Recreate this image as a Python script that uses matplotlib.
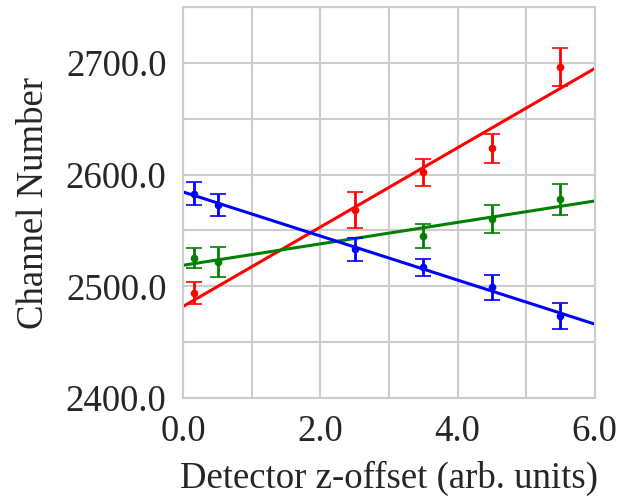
import matplotlib
matplotlib.use("Agg")
import matplotlib.pyplot as plt
import numpy as np
import seaborn as sns
from matplotlib.ticker import FormatStrFormatter, MultipleLocator

# detector z-offset positions and channel readings per series
X_RED = [0.15, 2.5, 3.5, 4.5, 5.5]
Y_RED = [2494, 2568, 2602, 2623.5, 2696]
E_RED = [10, 16, 12, 13, 17]

X_GREEN = [0.15, 0.5, 3.5, 4.5, 5.5]
Y_GREEN = [2525, 2522, 2545, 2560, 2578]
E_GREEN = [9, 13.5, 11, 12.5, 14]

X_BLUE = [0.15, 0.5, 2.5, 3.5, 4.5, 5.5]
Y_BLUE = [2583, 2573, 2533, 2517, 2499, 2473.5]
E_BLUE = [10, 10, 10, 7.5, 11, 12]

SERIES = [
    (X_RED, Y_RED, E_RED, "red"),
    (X_GREEN, Y_GREEN, E_GREEN, "green"),
    (X_BLUE, Y_BLUE, E_BLUE, "blue"),
]


def main() -> None:
    sns.set_style("whitegrid")
    plt.rcParams["font.family"] = ["Liberation Serif", "DejaVu Serif"]
    plt.rcParams.update({"axes.edgecolor": "#cccccc", "grid.color": "#cccccc"})

    fig = plt.figure(figsize=(6.43, 4.97), dpi=100)
    ax = fig.add_axes([0.285, 0.199, 0.640, 0.787])

    xfit = np.linspace(0, 6, 50)
    for x, y, e, c in SERIES:
        ax.errorbar(x, y, yerr=e, fmt="o", color=c, ms=4.5, elinewidth=2,
                    capsize=6, capthick=1.2, zorder=3)
        p = np.polyfit(x, y, 1)
        ax.plot(xfit, np.polyval(p, xfit), color=c, lw=2.2, zorder=2)

    ax.set_xlim(0, 6)
    ax.set_ylim(2400, 2750)
    ax.xaxis.set_major_locator(MultipleLocator(2))
    ax.xaxis.set_minor_locator(MultipleLocator(1))
    ax.yaxis.set_major_locator(MultipleLocator(100))
    ax.yaxis.set_minor_locator(MultipleLocator(50))
    ax.xaxis.set_major_formatter(FormatStrFormatter("%.1f"))
    ax.yaxis.set_major_formatter(FormatStrFormatter("%.1f"))
    ax.grid(True, which="both", color="#cccccc", lw=1.5)
    ax.tick_params(which="both", length=0, labelsize=26.5, colors="#262626", pad=12)
    for s in ax.spines.values():
        s.set_color("#cccccc")
        s.set_linewidth(1.5)

    ax.set_xlabel("Detector z-offset (arb. units)", fontsize=26.5, color="#262626", labelpad=8)
    ax.set_ylabel("Channel Number", fontsize=26.5, color="#262626", labelpad=11)

    fig.savefig("out.png", dpi=100)
    plt.close(fig)


if __name__ == "__main__":
    main()
